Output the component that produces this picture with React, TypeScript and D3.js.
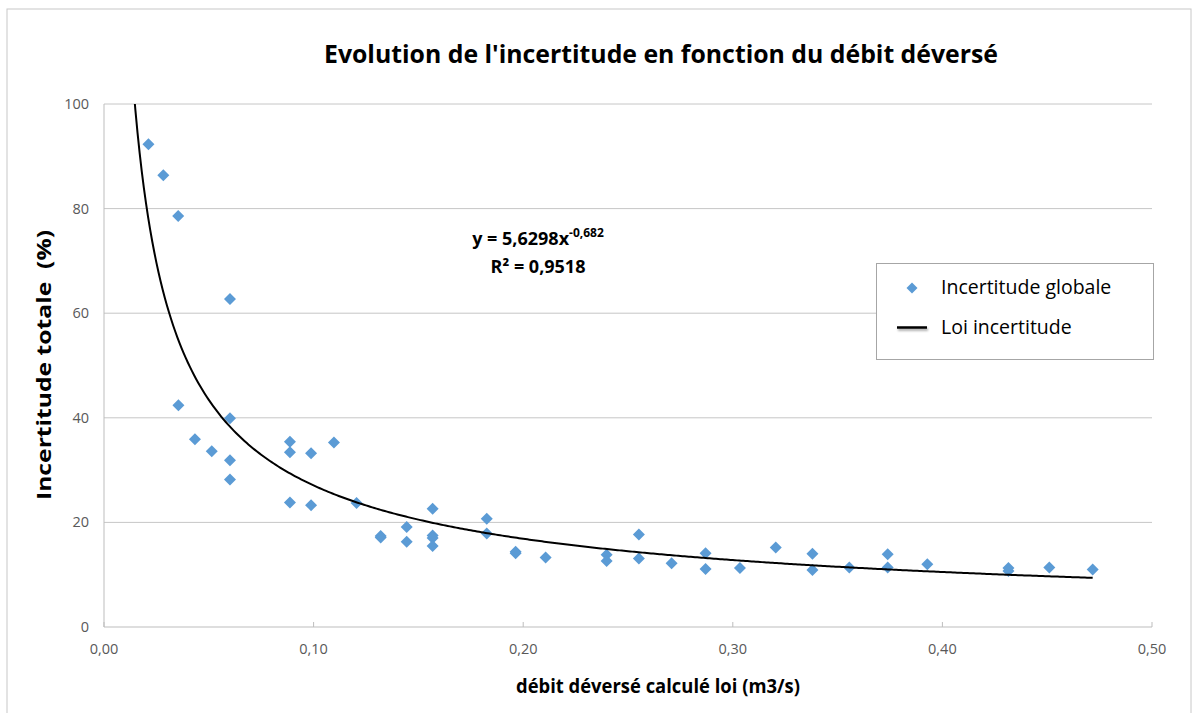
import * as d3 from "d3";

// débit déversé (m3/s) and incertitude globale (%)
const debit = [
  0.0212, 0.0283, 0.0354, 0.0601, 0.0355, 0.0434, 0.0514, 0.0601, 0.0601, 0.0601,
  0.0887, 0.0887, 0.0887, 0.0988, 0.0988, 0.1097, 0.1205, 0.132, 0.132, 0.1444,
  0.1444, 0.1568, 0.1568, 0.1568, 0.1568, 0.1826, 0.1826, 0.1964, 0.1964, 0.2107,
  0.2398, 0.2398, 0.2552, 0.2552, 0.2708, 0.287, 0.287, 0.3034, 0.3205, 0.338,
  0.338, 0.3556, 0.3739, 0.3739, 0.3928, 0.4315, 0.4315, 0.451, 0.4717,
];
const incertitude = [
  92.3, 86.4, 78.6, 62.7, 42.4, 35.9, 33.6, 39.9, 31.9, 28.2,
  35.4, 33.4, 23.8, 33.2, 23.3, 35.3, 23.7, 17.4, 17.1, 19.1,
  16.3, 22.6, 17.5, 17.0, 15.5, 20.7, 17.9, 14.4, 14.1, 13.3,
  13.8, 12.6, 17.7, 13.1, 12.2, 14.1, 11.1, 11.3, 15.2, 14.0,
  10.9, 11.4, 13.9, 11.4, 12.0, 11.3, 10.7, 11.4, 11.0,
];

// power trendline y = a * x^b (Excel fit)
const trendA = 5.6298;
const trendB = -0.682;
const trendStart = 0.012;

const xTicks = [0, 0.1, 0.2, 0.3, 0.4, 0.5];
const yTicks = [0, 20, 40, 60, 80, 100];

const W = 1198;
const H = 713;
const m = { left: 104, right: 1152, top: 104, bottom: 627 };
const font = "'Open Sans', 'Liberation Sans', sans-serif";
const blue = "#5b9bd5";

export default function App() {
  const x = d3.scaleLinear().domain([0, 0.5]).range([m.left, m.right]);
  const y = d3.scaleLinear().domain([0, 100]).range([m.bottom, m.top]);

  const xMax = d3.max(debit) ?? 0.5;
  const trendX = d3.range(trendStart, xMax, 0.001).concat([xMax]);
  const line = d3
    .line<number>()
    .x((d) => x(d))
    .y((d) => y(trendA * Math.pow(d, trendB)));

  const fmt = (v: number) => v.toFixed(2).replace(".", ",");
  const diamond = (cx: number, cy: number, r: number) =>
    `M${cx},${cy - r}L${cx + r},${cy}L${cx},${cy + r}L${cx - r},${cy}Z`;

  return (
    <svg
      width={W}
      height={H}
      style={{ position: "absolute", left: 0, top: 0, background: "#fff" }}
    >
      <defs>
        <clipPath id="plot">
          <rect x={m.left} y={m.top} width={m.right - m.left} height={m.bottom - m.top} />
        </clipPath>
        <filter id="shadow" filterUnits="userSpaceOnUse" x={880} y={315} width={70} height={30}>
          <feDropShadow dx="1" dy="2" stdDeviation="1.2" floodColor="#000" floodOpacity="0.35" />
        </filter>
      </defs>
      <rect x={7} y={9} width={1184} height={720} fill="#fff" stroke="#c8c8c8" />

      <text
        x={661}
        y={63}
        textAnchor="middle"
        fontFamily={font}
        fontWeight="bold"
        fontSize={25}
        fill="#000"
        textLength={674}
        lengthAdjust="spacingAndGlyphs"
      >
        Evolution de l'incertitude en fonction du débit déversé
      </text>

      {/* grid */}
      {yTicks.slice(1).map((t) => (
        <line key={t} x1={m.left} x2={m.right} y1={y(t)} y2={y(t)} stroke="#c6c6c6" />
      ))}
      {/* axes */}
      <line x1={m.left} x2={m.left} y1={m.top} y2={m.bottom} stroke="#bdbdbd" />
      <line x1={m.left} x2={m.right} y1={m.bottom} y2={m.bottom} stroke="#bdbdbd" />
      {xTicks.map((t) => (
        <line key={t} x1={x(t)} x2={x(t)} y1={m.bottom} y2={m.bottom - 5} stroke="#bdbdbd" />
      ))}

      {yTicks.map((t) => (
        <text
          key={t}
          x={m.left - 15}
          y={y(t) + 5}
          textAnchor="end"
          fontFamily={font}
          fontSize={14.5}
          fill="#595959"
        >
          {t}
        </text>
      ))}
      {xTicks.map((t) => (
        <text
          key={t}
          x={x(t)}
          y={654}
          textAnchor="middle"
          fontFamily={font}
          fontSize={14.5}
          fill="#595959"
        >
          {fmt(t)}
        </text>
      ))}

      <text
        transform={`translate(51,${365}) rotate(-90)`}
        textAnchor="middle"
        fontFamily={font}
        fontWeight="bold"
        fontSize={19}
        fill="#000"
        textLength={270}
        lengthAdjust="spacingAndGlyphs"
        style={{ whiteSpace: "pre" }}
      >
        {"Incertitude totale  (%)"}
      </text>
      <text
        x={658}
        y={693}
        textAnchor="middle"
        fontFamily={font}
        fontWeight="bold"
        fontSize={19}
        fill="#000"
        textLength={284}
        lengthAdjust="spacingAndGlyphs"
      >
        débit déversé calculé loi (m3/s)
      </text>

      {/* points */}
      <g>
        {debit.map((d, i) => (
          <path key={i} d={diamond(x(d), y(incertitude[i]), 6)} fill={blue} />
        ))}
      </g>

      {/* trendline */}
      <path
        d={line(trendX) ?? ""}
        fill="none"
        stroke="#000"
        strokeWidth={2}
        clipPath="url(#plot)"
      />

      {/* equation */}
      <text
        x={538}
        y={245}
        textAnchor="middle"
        fontFamily={font}
        fontWeight="bold"
        fontSize={18}
        fill="#000"
      >
        y = 5,6298x
        <tspan dy={-8} fontSize={12}>
          -0,682
        </tspan>
      </text>
      <text
        x={538}
        y={273}
        textAnchor="middle"
        fontFamily={font}
        fontWeight="bold"
        fontSize={18}
        fill="#000"
      >
        R² = 0,9518
      </text>

      {/* legend */}
      <rect x={876.5} y={263.5} width={277} height={96} fill="#fff" stroke="#a6a6a6" />
      <path d={diamond(912, 288, 5.5)} fill={blue} />
      <line x1={897} x2={927} y1={327.5} y2={327.5} stroke="#000" strokeWidth={2.5} filter="url(#shadow)" />
      <text x={941} y={294} fontFamily={font} fontSize={19.5} fill="#000">
        Incertitude globale
      </text>
      <text x={941} y={334} fontFamily={font} fontSize={19.5} fill="#000">
        Loi incertitude
      </text>
    </svg>
  );
}
